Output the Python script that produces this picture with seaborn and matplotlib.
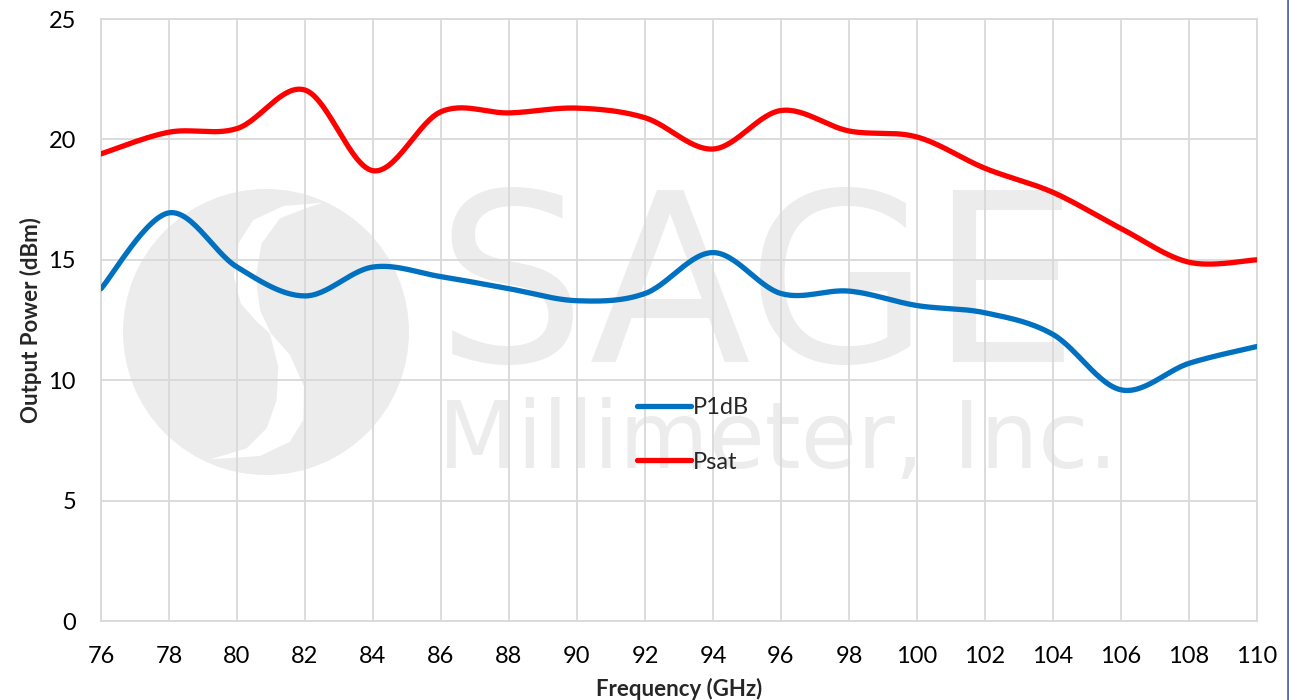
import numpy as np
import pandas as pd
import matplotlib
matplotlib.use("Agg")
import matplotlib.pyplot as plt
import seaborn as sns
from matplotlib.patches import Ellipse, Polygon
from matplotlib.lines import Line2D
from matplotlib.ticker import MultipleLocator

# ---------- Data ----------
freq_ghz = [76, 78, 80, 82, 84, 86, 88, 90, 92, 94, 96, 98, 100, 102, 104, 106, 108, 110]
p1db = [13.8, 16.95, 14.7, 13.5, 14.7, 14.3, 13.8, 13.3, 13.6, 15.3, 13.6, 13.7, 13.1, 12.8, 11.9, 9.6, 10.7, 11.4]
psat = [19.4, 20.3, 20.45, 22.05, 18.7, 21.15, 21.1, 21.3, 20.9, 19.6, 21.2, 20.35, 20.1, 18.8, 17.8, 16.3, 14.9, 15.0]

series_names = ["P1dB", "Psat"]
series_colors = ["#0070c0", "#ff0000"]


def smooth(x, y, n=30):
    # excel-like smoothed line (catmull-rom bezier through the points)
    x = np.asarray(x, float)
    y = np.asarray(y, float)
    px = np.concatenate([[x[0]], x, [x[-1]]])
    py = np.concatenate([[y[0]], y, [y[-1]]])
    xs, ys = [], []
    t = np.linspace(0, 1, n, endpoint=False)
    for i in range(1, len(px) - 2):
        p0 = np.array([px[i], py[i]])
        p3 = np.array([px[i + 1], py[i + 1]])
        c1 = p0 + (p3 - np.array([px[i - 1], py[i - 1]])) / 6
        c2 = p3 - (np.array([px[i + 2], py[i + 2]]) - p0) / 6
        b = ((1 - t) ** 3)[:, None] * p0 + (3 * (1 - t) ** 2 * t)[:, None] * c1 \
            + (3 * (1 - t) * t ** 2)[:, None] * c2 + (t ** 3)[:, None] * p3
        xs.extend(b[:, 0])
        ys.extend(b[:, 1])
    xs.append(x[-1])
    ys.append(y[-1])
    return xs, ys


frames = []
for name, vals in zip(series_names, [p1db, psat]):
    sx, sy = smooth(freq_ghz, vals)
    frames.append(pd.DataFrame({"Frequency": sx, "Power": sy, "Series": name}))
df = pd.concat(frames, ignore_index=True)

# ---------- Plot ----------
sns.set_style("white")
plt.rcParams["font.family"] = ["Lato", "DejaVu Sans"]

W, H = 1289, 700
fig = plt.figure(figsize=(W / 100, H / 100), dpi=100)
fig.patch.set_facecolor("white")
ax = fig.add_axes([101 / W, 1 - 621 / H, 1156 / W, 602 / H])
ax.set_facecolor("none")


def fx(px):
    return px / W


def fy(py):
    return 1 - py / H


# watermark (behind the grid)
wm = "#ececec"
ax.add_patch(Ellipse((fx(266), fy(332)), 2 * 143 / W, 2 * 143 / H, transform=fig.transFigure,
                     facecolor=wm, edgecolor="none", zorder=0.1, clip_on=False))
upper = [(640, 98), (520, 108), (430, 150), (385, 220), (372, 320), (392, 400), (440, 455), (485, 495),
         (450, 420), (437, 320), (455, 220), (510, 145), (600, 110)]
lower = [(478, 485), (540, 555), (582, 650), (580, 750), (540, 815), (450, 858), (300, 868),
         (410, 835), (470, 775), (500, 690), (505, 590)]
for pts in [upper, lower]:
    poly = [(fx(110 + zx / 3), fy(170 + zy / 3)) for zx, zy in pts]
    ax.add_patch(Polygon(poly, closed=True, transform=fig.transFigure, facecolor="white",
                         edgecolor="none", zorder=0.15, clip_on=False))
ax.text(fx(757), fy(362), "SAGE", transform=fig.transFigure, fontsize=170, color=wm,
        family="DejaVu Sans", ha="center", va="baseline", zorder=0.2)
ax.text(fx(778), fy(468), "Millimeter, Inc.", transform=fig.transFigure, fontsize=66, color=wm,
        family="DejaVu Sans", ha="center", va="baseline", zorder=0.2)

sns.lineplot(data=df, x="Frequency", y="Power", hue="Series", palette=series_colors,
             linewidth=3.8, sort=False, estimator=None, ax=ax, legend=False, zorder=3)

ax.set_xlim(76, 110)
ax.set_ylim(0, 25)
ax.set_xticks(np.arange(76, 111, 2))
ax.set_yticks(np.arange(0, 26, 5))
ax.xaxis.set_minor_locator(MultipleLocator(0.4))
ax.yaxis.set_minor_locator(MultipleLocator(1))

grid_c = "#d9d9d9"
ax.set_axisbelow(True)
ax.grid(True, which="major", color=grid_c, linewidth=1.3)
for s in ax.spines.values():
    s.set_color(grid_c)
    s.set_linewidth(1.3)
ax.tick_params(which="major", length=0, labelsize=17, colors="black")
ax.tick_params(axis="x", which="major", pad=18)
ax.tick_params(axis="y", which="major", pad=18)
ax.tick_params(which="minor", direction="in", length=4.5, width=1.2, color=grid_c)

ax.set_xlabel("Frequency (GHz)", fontsize=16, fontweight="bold", labelpad=8)
ax.set_ylabel("Output Power (dBm)", fontsize=16, fontweight="bold", labelpad=5)

handles = [Line2D([0], [0], color=c, linewidth=3.8, solid_capstyle="round") for c in series_colors]
ax.legend(handles, series_names, loc="upper left", bbox_to_anchor=(fx(637), fy(397)),
          bbox_transform=fig.transFigure, frameon=False, fontsize=17, handlelength=2.3,
          handletextpad=0.05, labelspacing=1.42, borderpad=0, borderaxespad=0)

# blue frame edge on the right
fig.add_artist(Line2D([fx(1287.5), fx(1287.5)], [0, 1], color="#4472c4", linewidth=2,
                      transform=fig.transFigure))

fig.savefig("out.png", dpi=100)
